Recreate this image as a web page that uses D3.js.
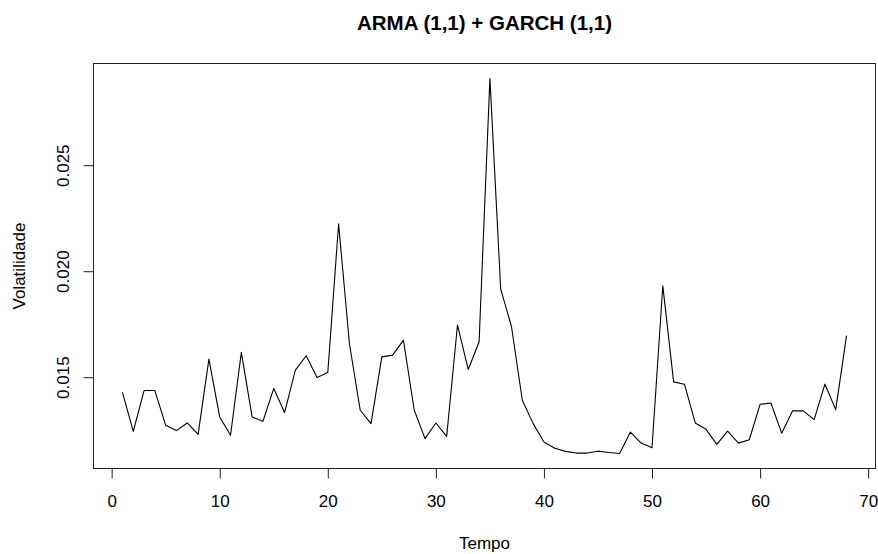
<!DOCTYPE html>
<html>
<head>
<meta charset="utf-8">
<script src="https://cdn.jsdelivr.net/npm/d3@7"></script>
<style>
  body { margin: 0; background: #fff; }
  svg { display: block; font-family: "Liberation Sans", Arial, sans-serif; }
</style>
</head>
<body>
<svg id="chart" width="878" height="554"></svg>
<script>
const title = "ARMA (1,1) + GARCH (1,1)";
const xLabel = "Tempo";
const yLabel = "Volatilidade";
const xTicks = [0, 10, 20, 30, 40, 50, 60, 70];
const yTicks = [0.015, 0.020, 0.025];
const tempo = d3.range(1, 69);
const volatilidade = [
  0.01428, 0.01244, 0.01437, 0.01437, 0.01273, 0.01248, 0.01284, 0.01230, 0.01585, 0.01312,
  0.01226, 0.01617, 0.01312, 0.01292, 0.01447, 0.01333, 0.01533, 0.01601, 0.01499, 0.01522,
  0.02223, 0.01659, 0.01344, 0.01281, 0.01596, 0.01604, 0.01675, 0.01344, 0.01210, 0.01284,
  0.01221, 0.01746, 0.01536, 0.01667, 0.02909, 0.01915, 0.01738, 0.01391, 0.01281, 0.01194,
  0.01165, 0.01150, 0.01142, 0.01142, 0.01151, 0.01145, 0.01140, 0.01241, 0.01189, 0.01167,
  0.01931, 0.01478, 0.01467, 0.01284, 0.01254, 0.01183, 0.01246, 0.01189, 0.01205, 0.01372,
  0.01378, 0.01236, 0.01341, 0.01341, 0.01300, 0.01467, 0.01347, 0.01696
];

const svg = d3.select("#chart");
const box = { left: 93.5, right: 875.5, top: 63.5, bottom: 468.5 };

// R-style 4% axis extension
function rExtent(vals) {
  const [a, b] = d3.extent(vals);
  const pad = (b - a) * 0.04;
  return [a - pad, b + pad];
}

const x = d3.scaleLinear().domain(rExtent(tempo)).range([box.left, box.right]);
const y = d3.scaleLinear().domain(rExtent(volatilidade)).range([box.bottom, box.top]);

// Plot box
svg.append("rect")
  .attr("x", box.left).attr("y", box.top)
  .attr("width", box.right - box.left).attr("height", box.bottom - box.top)
  .attr("fill", "none").attr("stroke", "#222").attr("stroke-width", 1);

// Line
const line = d3.line().x((d, i) => x(tempo[i])).y(d => y(d));
svg.append("path")
  .datum(volatilidade)
  .attr("d", line)
  .attr("fill", "none")
  .attr("stroke", "#000")
  .attr("stroke-width", 1.1)
  .attr("stroke-linejoin", "round");

// X axis
const xAxis = d3.axisBottom(x).tickValues(xTicks).tickSize(10).tickPadding(8).tickFormat(d3.format("d"));
const gx = svg.append("g").attr("transform", `translate(0,${box.bottom})`).call(xAxis);
gx.select(".domain").attr("d", `M${Math.round(x(0)) + 0.5},0H${Math.round(x(70)) + 0.5}`).attr("stroke", "#222");
gx.selectAll(".tick line").attr("stroke", "#222");
gx.selectAll(".tick text")
  .attr("font-size", "17px").attr("fill", "#000")
  .attr("font-family", "Liberation Sans, Arial, sans-serif")
  .attr("dy", null).attr("y", 38);

// Y axis
const yAxis = d3.axisLeft(y).tickValues(yTicks).tickSize(10).tickFormat(d3.format(".3f"));
const gy = svg.append("g").attr("transform", `translate(${box.left},0)`).call(yAxis);
gy.select(".domain").attr("d", `M0,${y(0.015)}V${y(0.025)}`).attr("stroke", "#222");
gy.selectAll(".tick line").attr("stroke", "#222");
gy.selectAll(".tick text")
  .attr("font-size", "17px").attr("fill", "#000")
  .attr("font-family", "Liberation Sans, Arial, sans-serif")
  .attr("x", null).attr("dy", null)
  .attr("text-anchor", "middle")
  .attr("transform", "translate(-25,0) rotate(-90)");

// Title
svg.append("text")
  .attr("x", (box.left + box.right) / 2).attr("y", 29.5)
  .attr("text-anchor", "middle")
  .attr("font-size", "20.5px").attr("font-weight", "bold")
  .attr("fill", "#000")
  .text(title);

// X label
svg.append("text")
  .attr("x", (box.left + box.right) / 2).attr("y", 549)
  .attr("text-anchor", "middle")
  .attr("font-size", "17px").attr("fill", "#000")
  .text(xLabel);

// Y label
svg.append("text")
  .attr("transform", `translate(25,${(box.top + box.bottom) / 2}) rotate(-90)`)
  .attr("text-anchor", "middle")
  .attr("font-size", "17px").attr("fill", "#000")
  .text(yLabel);
</script>
</body>
</html>
